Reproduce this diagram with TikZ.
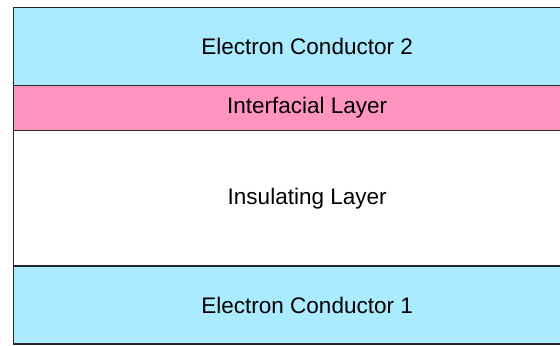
\documentclass[tikz,border=0pt]{standalone}
\usepackage{fontspec}
\setmainfont{Liberation Sans}
\definecolor{condblue}{RGB}{170,235,255}
\definecolor{ifpink}{RGB}{255,148,192}
\definecolor{edgegray}{RGB}{40,40,40}
\begin{document}
\begin{tikzpicture}[x=1bp,y=-1bp,
  layer/.style={draw=edgegray, line width=1.3bp, minimum width=588bp, inner sep=0pt,
    anchor=north west, font=\fontsize{22.5bp}{27bp}\selectfont, text=black}]
\clip (0,0) rectangle (560,345);
\node[layer, fill=condblue, minimum height=78.5bp] (c2) at (12.5,6.5) {Electron Conductor 2};
\node[layer, fill=ifpink, minimum height=45bp] (il) at (12.5,85) {Interfacial Layer};
\node[layer, fill=white, minimum height=135.3bp] (ins) at (12.5,130) {Insulating Layer};
\node[layer, fill=condblue, minimum height=78bp] (c1) at (12.5,265.3) {Electron Conductor 1};
\end{tikzpicture}
\end{document}
